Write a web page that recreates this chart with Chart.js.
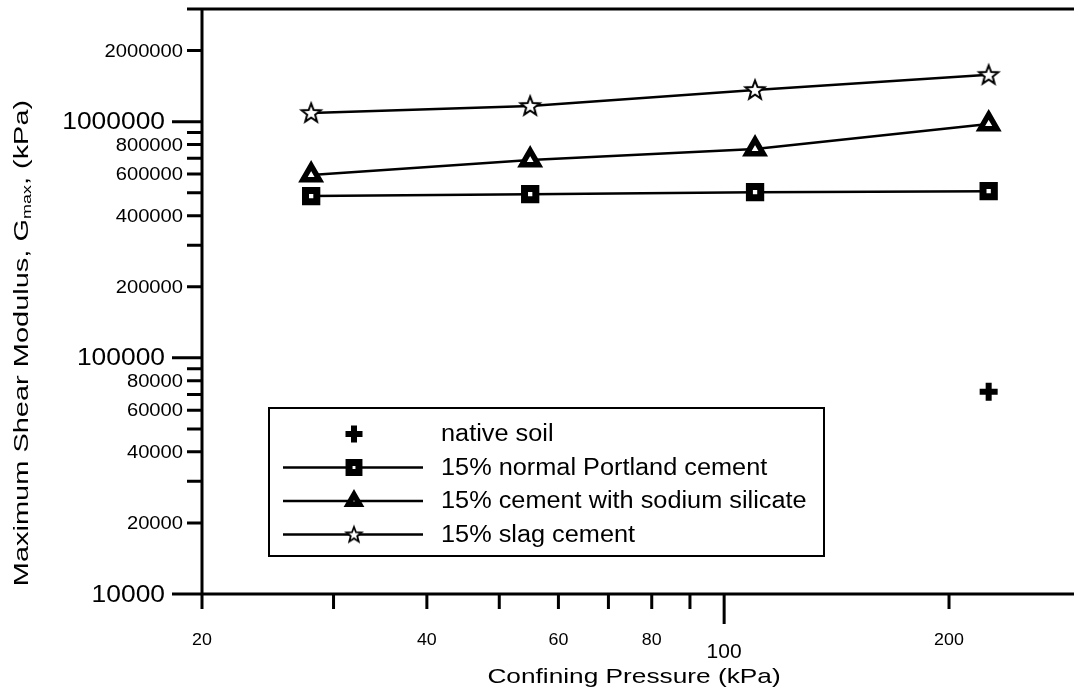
<!DOCTYPE html>
<html>
<head>
<meta charset="utf-8">
<script src="https://cdn.jsdelivr.net/npm/chart.js@4.4.0/dist/chart.umd.min.js"></script>
<style>
  html, body { margin: 0; padding: 0; background: #fff; }
  #wrap { width: 1074px; height: 697px; }
</style>
</head>
<body>
<div id="wrap"><canvas id="chart" width="1074" height="697"></canvas></div>
<script>
// Confining pressure (kPa) at which each mix was tested
const pressureKpa = [28, 55, 110, 226];

// Gmax (kPa) per mix
const portlandGmax = [484000, 493000, 503000, 508000];
const silicateGmax = [594000, 688000, 766000, 978000];
const slagGmax = [1089000, 1166000, 1363000, 1579000];

// untreated soil, single test
const nativePressure = [226];
const nativeGmax = [71900];

const seriesLabels = [
    'native soil',
    '15% normal Portland cement',
    '15% cement with sodium silicate',
    '15% slag cement'
];

// axis ticks and which of them get a number
const xTickValues = [20, 30, 40, 50, 60, 70, 80, 90, 100, 200];
const xTickLabels = [20, 40, 60, 80, 100, 200];
const yTickValues = [
    10000, 20000, 30000, 40000, 50000, 60000, 70000, 80000, 90000,
    100000, 200000, 300000, 400000, 500000, 600000, 700000, 800000, 900000,
    1000000, 2000000, 3000000
];
const yTickLabels = [10000, 20000, 40000, 60000, 80000, 100000, 200000, 400000, 600000, 800000, 1000000, 2000000];

const FONT = '"Liberation Sans", Arial, sans-serif';

const toPoints = (xs, ys) => xs.map((v, i) => ({ x: v, y: ys[i] }));
const isDecade = v => Math.abs(Math.log10(v) - Math.round(Math.log10(v))) < 1e-9;

// text drawn a little wider than the font's natural width
function wideText(ctx, text, x, y, font, sx, align) {
    ctx.save();
    ctx.font = font;
    const w = ctx.measureText(text).width * sx;
    let left = x;
    if (align === 'right') left = x - w;
    else if (align === 'center') left = x - w / 2;
    ctx.translate(left, y);
    ctx.scale(sx, 1);
    ctx.textAlign = 'left';
    ctx.fillText(text, 0, 0);
    ctx.restore();
}

// outlined five-point star used as a point style
function makeStar(outer, inner, lw) {
    const size = Math.ceil(outer * 2 + lw * 2 + 2);
    const c = document.createElement('canvas');
    c.width = size;
    c.height = size;
    const g = c.getContext('2d');
    const cx = size / 2, cy = size / 2 + 0.5;
    g.beginPath();
    for (let i = 0; i < 10; i++) {
        const r = i % 2 === 0 ? outer : inner;
        const ang = -Math.PI / 2 + i * Math.PI / 5;
        const px = cx + r * Math.cos(ang), py = cy + r * Math.sin(ang);
        if (i === 0) g.moveTo(px, py); else g.lineTo(px, py);
    }
    g.closePath();
    g.fillStyle = '#fff';
    g.fill();
    g.lineWidth = lw;
    g.strokeStyle = '#000';
    g.stroke();
    return c;
}

const starBig = makeStar(10, 4.2, 2);
const starSmall = makeStar(8, 3.4, 1.8);

// marker settings, shared by the plot and the legend
const markers = [
    { pointStyle: 'cross', radius: 9, borderWidth: 6, legendRadius: 8.5, line: false },
    { pointStyle: 'rect', radius: 8, borderWidth: 7, legendRadius: 7, line: true },
    { pointStyle: 'triangle', radius: 9.5, borderWidth: 5.5, legendRadius: 6.5, line: true },
    { pointStyle: starBig, legendStyle: starSmall, radius: 10, borderWidth: 0, legendRadius: 8, line: true }
];

const axesPlugin = {
    id: 'logAxes',
    beforeDatasetsDraw(chart) {
        const { ctx, chartArea: a, scales: { x, y } } = chart;
        ctx.save();
        ctx.strokeStyle = '#000';
        ctx.lineWidth = 3;
        ctx.beginPath();
        ctx.moveTo(a.left, a.top);
        ctx.lineTo(a.left, a.bottom);
        ctx.moveTo(a.left, a.bottom);
        ctx.lineTo(a.right, a.bottom);
        ctx.moveTo(a.left, a.top);
        ctx.lineTo(a.right, a.top);
        yTickValues.forEach(v => {
            const py = y.getPixelForValue(v);
            const len = isDecade(v) ? 30 : 15;
            ctx.moveTo(a.left - len, py);
            ctx.lineTo(a.left, py);
        });
        xTickValues.forEach(v => {
            const px = x.getPixelForValue(v);
            const len = isDecade(v) && v !== 20 ? 30 : 15;
            ctx.moveTo(px, a.bottom);
            ctx.lineTo(px, a.bottom + len);
        });
        ctx.stroke();

        ctx.fillStyle = '#000';
        ctx.textBaseline = 'middle';
        yTickLabels.forEach(v => {
            const py = y.getPixelForValue(v);
            if (isDecade(v)) {
                wideText(ctx, String(v), a.left - 37, py + 1, `24px ${FONT}`, 1.1, 'right');
            } else {
                wideText(ctx, String(v), a.left - 19, py + 1, `18px ${FONT}`, 1.12, 'right');
            }
        });

        xTickLabels.forEach(v => {
            const px = x.getPixelForValue(v);
            if (v === 100) {
                wideText(ctx, String(v), px, 652, `21px ${FONT}`, 1, 'center');
            } else {
                wideText(ctx, String(v), px, 640, `17px ${FONT}`, 1.05, 'center');
            }
        });

        // axis titles
        wideText(ctx, 'Confining Pressure (kPa)', 634, 677, `21px ${FONT}`, 1.25, 'center');

        ctx.translate(22, 343);
        ctx.rotate(-Math.PI / 2);
        const sx = 1.38;
        const parts = [
            { t: 'Maximum Shear Modulus, G', f: `21px ${FONT}`, dy: 0 },
            { t: 'max', f: `13px ${FONT}`, dy: 5 },
            { t: ', (kPa)', f: `21px ${FONT}`, dy: 0 }
        ];
        let total = 0;
        parts.forEach(p => { ctx.font = p.f; p.w = ctx.measureText(p.t).width * sx; total += p.w; });
        let cx = -total / 2;
        parts.forEach(p => {
            wideText(ctx, p.t, cx, p.dy, p.f, sx, 'left');
            cx += p.w;
        });
        ctx.restore();
    }
};

const legendPlugin = {
    id: 'boxLegend',
    afterDatasetsDraw(chart) {
        const { ctx } = chart;
        const box = { left: 269, top: 408, right: 824, bottom: 556 };
        ctx.save();
        ctx.fillStyle = '#fff';
        ctx.fillRect(box.left, box.top, box.right - box.left, box.bottom - box.top);
        ctx.strokeStyle = '#000';
        ctx.lineWidth = 2;
        ctx.strokeRect(box.left, box.top, box.right - box.left, box.bottom - box.top);

        chart.data.datasets.forEach((ds, i) => {
            const m = markers[i];
            const rowY = 434 + i * 33.5;
            if (m.line) {
                ctx.strokeStyle = '#000';
                ctx.lineWidth = 2.5;
                ctx.beginPath();
                ctx.moveTo(283, rowY);
                ctx.lineTo(423, rowY);
                ctx.stroke();
            }
            // drawPoint uses the context's current fill/stroke/width
            ctx.fillStyle = '#fff';
            ctx.strokeStyle = '#000';
            ctx.lineWidth = m.borderWidth;
            Chart.helpers.drawPoint(ctx, {
                pointStyle: m.legendStyle || m.pointStyle,
                radius: m.legendRadius,
                borderWidth: m.borderWidth,
                rotation: 0
            }, 354, rowY);
            ctx.fillStyle = '#000';
            ctx.textBaseline = 'middle';
            wideText(ctx, ds.label, 441, rowY + 1, `23px ${FONT}`, 1.1, 'left');
        });
        ctx.restore();
    }
};

const seriesData = [
    toPoints(nativePressure, nativeGmax),
    toPoints(pressureKpa, portlandGmax),
    toPoints(pressureKpa, silicateGmax),
    toPoints(pressureKpa, slagGmax)
];

const datasets = seriesData.map((pts, i) => ({
    label: seriesLabels[i],
    data: pts,
    showLine: markers[i].line,
    borderColor: '#000',
    borderWidth: 2.5,
    backgroundColor: '#fff',
    pointStyle: markers[i].pointStyle,
    pointRadius: markers[i].radius,
    pointBorderWidth: markers[i].borderWidth,
    pointBorderColor: '#000',
    pointBackgroundColor: '#fff',
    tension: 0
}));

new Chart(document.getElementById('chart').getContext('2d'), {
    type: 'scatter',
    data: { datasets },
    options: {
        responsive: false,
        animation: false,
        devicePixelRatio: 1,
        layout: { autoPadding: false, padding: { left: 202, top: 9, right: 0, bottom: 103 } },
        scales: {
            x: { type: 'logarithmic', min: 20, max: 294, display: false },
            y: { type: 'logarithmic', min: 10000, max: 3000000, display: false }
        },
        plugins: {
            legend: { display: false },
            tooltip: { enabled: false }
        }
    },
    plugins: [axesPlugin, legendPlugin]
});
</script>
</body>
</html>
